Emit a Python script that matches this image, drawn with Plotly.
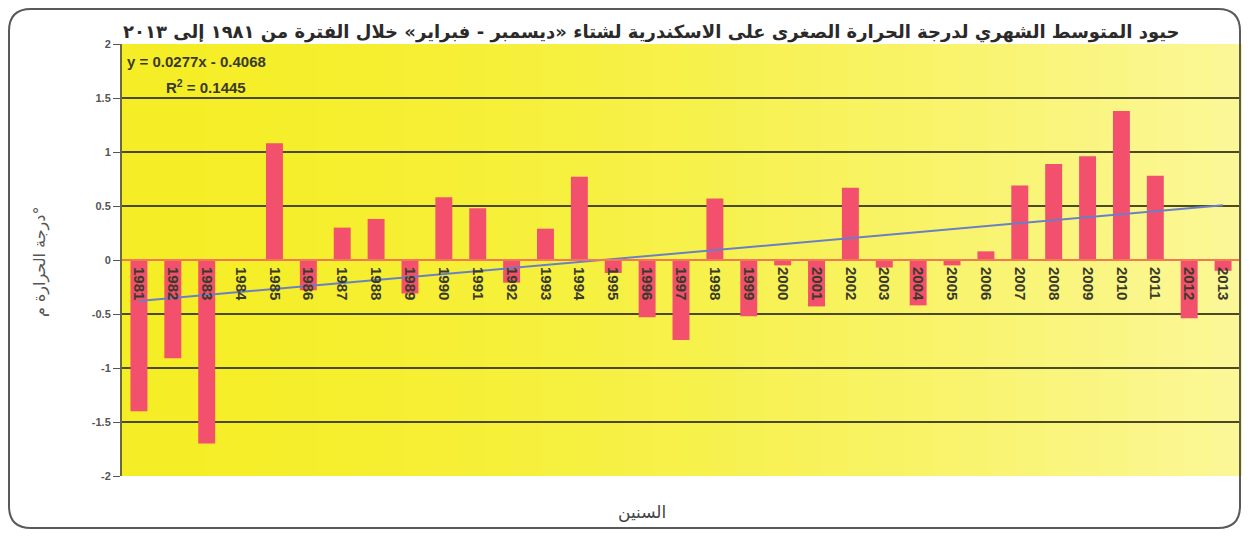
import plotly.graph_objects as go

# Winter (Dec-Feb) mean minimum temperature anomalies, Alexandria
years = [str(y) for y in range(1981, 2014)]
anomalies = [
    -1.40, -0.91, -1.70, 0.00, 1.08, -0.28, 0.30, 0.38, -0.31, 0.58,
    0.48, -0.21, 0.29, 0.77, -0.12, -0.53, -0.74, 0.57, -0.52, -0.05,
    -0.43, 0.67, -0.07, -0.42, -0.05, 0.08, 0.69, 0.89, 0.96, 1.38,
    0.78, -0.54, -0.10,
]
trend_slope = 0.0277
trend_intercept = -0.4068
r_squared = 0.1445
y_ticks = [2, 1.5, 1, 0.5, 0, -0.5, -1, -1.5, -2]

title_text = "حيود المتوسط الشهري لدرجة الحرارة الصغرى على الاسكندرية لشتاء «ديسمبر - فبراير» خلال الفترة من ١٩٨١ إلى ٢٠١٣"
x_title = "السنين"
y_title = "درجة الحرارة م°"

trend = [trend_slope * (i + 1) + trend_intercept for i in range(len(years))]


def gradient_strips(n=40, left=(245, 238, 38), right=(251, 247, 150)):
    """yellow left-to-right fade behind the plot area"""
    shapes = []
    for i in range(n):
        t = (i / (n - 1)) ** 1.6
        c = tuple(round(left[k] + (right[k] - left[k]) * t) for k in range(3))
        shapes.append(dict(
            type="rect", xref="paper", yref="paper",
            x0=i / n, x1=(i + 1) / n + 0.002, y0=0, y1=1,
            fillcolor="rgb(%d,%d,%d)" % c, line=dict(width=0), layer="below"
        ))
    return shapes


def rounded_frame(x0, y0, x1, y1, rx, ry):
    return (f"M {x0+rx},{y0} L {x1-rx},{y0} Q {x1},{y0} {x1},{y0+ry} "
            f"L {x1},{y1-ry} Q {x1},{y1} {x1-rx},{y1} L {x0+rx},{y1} "
            f"Q {x0},{y1} {x0},{y1-ry} L {x0},{y0+ry} Q {x0},{y0} {x0+rx},{y0} Z")


fig = go.Figure()

fig.add_trace(go.Bar(
    x=years, y=anomalies,
    marker=dict(color="#f2506c", line=dict(width=0)),
    showlegend=False
))

fig.add_trace(go.Scatter(
    x=years, y=trend, mode="lines",
    line=dict(color="#6a80c4", width=2),
    showlegend=False
))

# page body has an 8px margin, so the figure is kept a bit smaller
W, H = 1234, 522
L, T, B = 114, 36, 54
R = 2
pw, ph = W - L - R, H - T - B


def px(x):
    return (x - L) / pw


def py(y):
    return (T + ph - y) / ph


shapes = gradient_strips()
shapes.append(dict(
    type="path", xref="paper", yref="paper",
    path=rounded_frame(px(1), py(520), px(1232), py(1), 22 / pw, 22 / ph),
    line=dict(color="#5a5a5a", width=2), fillcolor="rgba(0,0,0,0)", layer="above"
))

annotations = [
    dict(text="<b>" + title_text + "</b>", xref="paper", yref="paper",
         x=px(1174), y=py(24), xanchor="right", yanchor="middle",
         showarrow=False, font=dict(family="DejaVu Sans", size=18, color="#2a2a2a")),
    dict(text="<b>y = 0.0277x - 0.4068</b>", xref="paper", yref="paper",
         x=px(117), y=py(53), xanchor="left", yanchor="middle",
         showarrow=False, font=dict(family="Liberation Sans", size=15, color="#3a3a2a")),
    dict(text="<b>R<sup>2</sup> = %.4f</b>" % r_squared, xref="paper", yref="paper",
         x=px(156), y=py(78), xanchor="left", yanchor="middle",
         showarrow=False, font=dict(family="Liberation Sans", size=15, color="#3a3a2a")),
    dict(text=x_title, xref="paper", yref="paper",
         x=px(634), y=py(504), xanchor="center", yanchor="middle",
         showarrow=False, font=dict(family="DejaVu Sans", size=17, color="#444444")),
    dict(text=y_title, xref="paper", yref="paper", textangle=-90,
         x=px(32), y=py(254), xanchor="center", yanchor="middle",
         showarrow=False, font=dict(family="DejaVu Sans", size=16, color="#555555")),
]

fig.update_layout(
    width=W, height=H,
    margin=dict(l=L, r=R, t=T, b=B),
    paper_bgcolor="white",
    plot_bgcolor="rgba(0,0,0,0)",
    bargap=0.5,
    shapes=shapes,
    annotations=annotations,
    xaxis=dict(
        type="category", anchor="free", position=0.5,
        showline=True, linecolor="#f07a52", linewidth=2,
        showgrid=False, ticks="", tickangle=90,
        tickfont=dict(family="Liberation Sans", size=15, color="#3a3a2a", weight="bold"),
        ticklabelstandoff=3,
        range=[-0.5, len(years) - 0.5],
    ),
    yaxis=dict(
        range=[-2, 2], tickvals=y_ticks,
        ticktext=[str(v) for v in y_ticks],
        showgrid=True, gridcolor="#4b4a24", gridwidth=2,
        zeroline=False,
        showline=True, linecolor="#6b6a30", linewidth=2,
        ticks="outside", ticklen=7, tickcolor="#555555",
        tickfont=dict(family="Liberation Sans", size=11, color="#555555", weight="bold"),
    ),
)

fig.write_html("out.html")
